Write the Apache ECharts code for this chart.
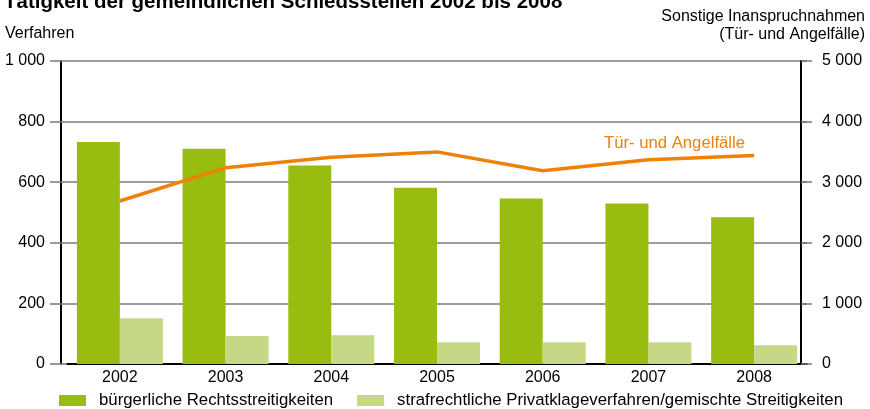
<!DOCTYPE html>
<html>
<head>
<meta charset="utf-8">
<script src="https://cdn.jsdelivr.net/npm/echarts@6/dist/echarts.min.js"></script>
<style>
  html, body { margin: 0; padding: 0; background: #fff; }
  #chart { width: 870px; height: 409px; }
</style>
</head>
<body>
<div id="chart"></div>
<script>
const years = ['2002', '2003', '2004', '2005', '2006', '2007', '2008'];
const buergerlich = [733, 710, 655, 582, 546, 530, 484];
const strafrechtlich = [151, 92, 95, 72, 72, 72, 62];
const tuerAngel = [2690, 3240, 3410, 3500, 3190, 3370, 3440];

const font = 'Liberation Sans, Arial, sans-serif';
const grid = '#7a7a7a';

const chart = echarts.init(document.getElementById('chart'), null, { renderer: 'canvas' });

chart.setOption({
    animation: false,
    textStyle: { fontFamily: font },
    title: [
        {
            text: 'Tätigkeit der gemeindlichen Schiedsstellen 2002 bis 2008',
            left: 4, top: -8, padding: 0,
            textStyle: { fontSize: 20.5, fontWeight: 'bold', color: '#000', fontFamily: font },
        },
        {
            text: 'Verfahren',
            left: 5, top: 26, padding: 0,
            textStyle: { fontSize: 16, fontWeight: 'normal', color: '#000', fontFamily: font },
        },
        {
            text: 'Sonstige Inanspruchnahmen',
            right: 5, top: 9, padding: 0,
            textStyle: { fontSize: 16, fontWeight: 'normal', color: '#000', fontFamily: font },
        },
        {
            text: '(Tür- und Angelfälle)',
            right: 5, top: 27, padding: 0,
            textStyle: { fontSize: 16, fontWeight: 'normal', color: '#000', fontFamily: font },
        },
        {
            text: 'Tür- und Angelfälle',
            left: 604, top: 135, padding: 0,
            textStyle: { fontSize: 16.7, fontWeight: 'normal', color: '#EE8106', fontFamily: font },
        },
    ],
    grid: { left: 67, right: 63, top: 61, bottom: 45 },
    legend: {
        top: 392, left: 59, padding: 0,
        itemWidth: 27, itemHeight: 11, itemGap: 24,
        icon: 'rect',
        data: ['bürgerliche Rechtsstreitigkeiten', 'strafrechtliche Privatklageverfahren/gemischte Streitigkeiten'],
        textStyle: { fontSize: 16.8, color: '#000', fontFamily: font, padding: [0, 0, 0, 8] },
    },
    xAxis: {
        type: 'category',
        data: years,
        axisLine: { lineStyle: { color: '#000', width: 2 } },
        axisTick: { show: false },
        axisLabel: { fontSize: 16, color: '#000', margin: 6, fontFamily: font },
    },
    yAxis: [
        {
            type: 'value', min: 0, max: 1000, interval: 200,
            position: 'left', offset: 0,
            axisLine: { show: false },
            axisTick: { show: true, length: 17, lineStyle: { color: grid, width: 1.5 } },
            splitLine: { lineStyle: { color: grid, width: 1.5 } },
            axisLabel: {
                fontSize: 16, color: '#000', margin: 22, fontFamily: font,
                formatter: (v) => v >= 1000 ? '1 000' : String(v),
            },
        },
        {
            type: 'value', min: 0, max: 5000, interval: 1000,
            position: 'right', offset: -6,
            axisLine: { show: true, lineStyle: { color: '#000', width: 2 } },
            axisTick: { show: true, length: 11, lineStyle: { color: grid, width: 1.5 } },
            splitLine: { show: false },
            axisLabel: {
                fontSize: 16, color: '#000', margin: 21, fontFamily: font,
                formatter: (v) => v === 0 ? '0' : String(v / 1000) + ' 000',
            },
        },
        {
            type: 'value', min: 0, max: 1000, interval: 200,
            position: 'left', offset: 6,
            axisLine: { show: true, lineStyle: { color: '#000', width: 2 } },
            axisTick: { show: false },
            axisLabel: { show: false },
            splitLine: { show: false },
        },
    ],
    series: [
        {
            name: 'bürgerliche Rechtsstreitigkeiten',
            type: 'bar',
            data: buergerlich,
            barWidth: 43,
            barGap: '0%',
            itemStyle: { color: '#98BC0F' },
        },
        {
            name: 'strafrechtliche Privatklageverfahren/gemischte Streitigkeiten',
            type: 'bar',
            data: strafrechtlich,
            barWidth: 43,
            barGap: '0%',
            itemStyle: { color: '#C6D886' },
        },
        {
            name: 'Tür- und Angelfälle',
            type: 'line',
            yAxisIndex: 1,
            data: tuerAngel,
            showSymbol: false,
            symbol: 'none',
            lineStyle: { color: '#EE8106', width: 3.5 },
            z: 5,
        },
    ],
});
</script>
</body>
</html>
